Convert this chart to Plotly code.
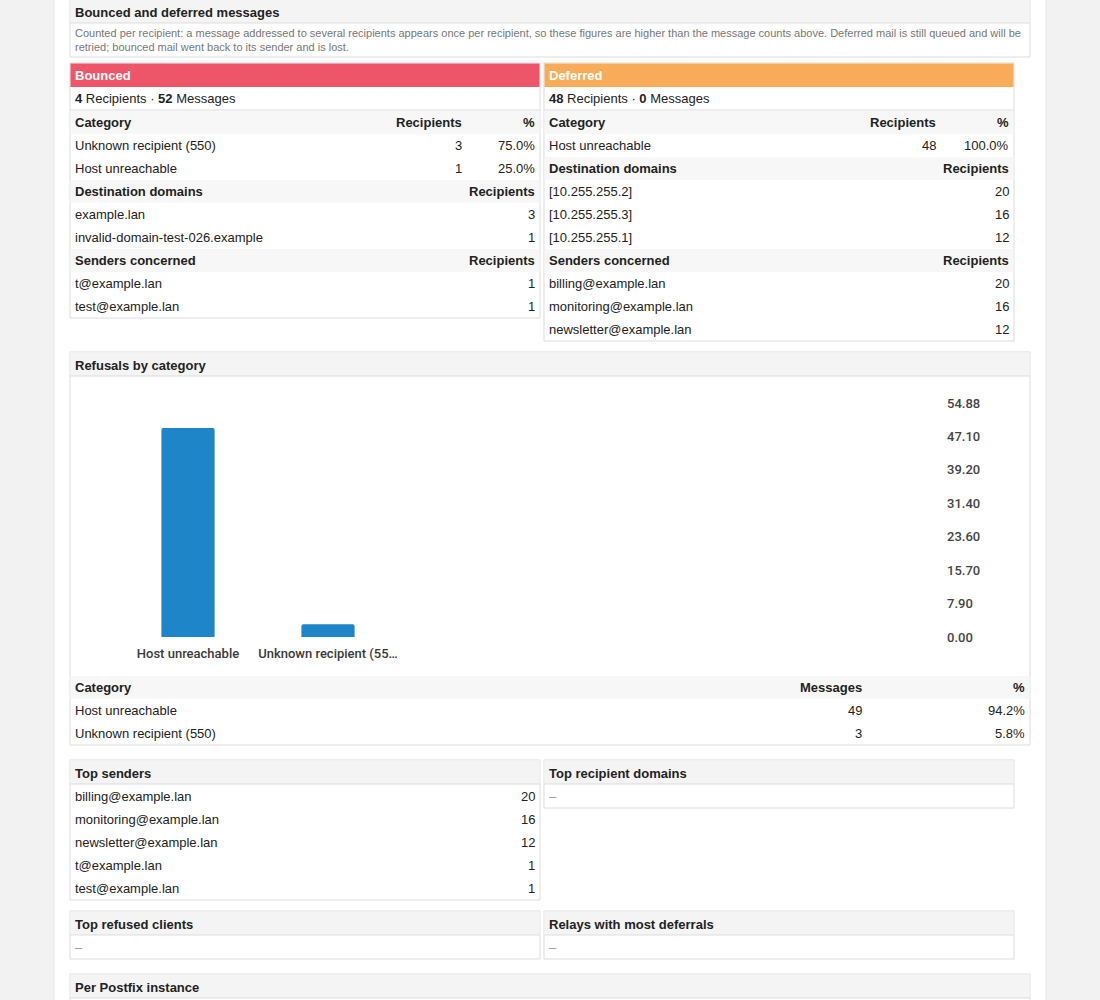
import plotly.graph_objects as go

note_text = ("Counted per recipient: a message addressed to several recipients appears once per recipient, "
             "so these figures are higher than the message counts above. Deferred mail is still queued and will be<br>"
             "retried; bounced mail went back to its sender and is lost.")

bounced_recipients = 4
bounced_messages = 52
bounced_categories = ["Unknown recipient (550)", "Host unreachable"]
bounced_category_counts = [3, 1]
bounced_category_pct = ["75.0%", "25.0%"]
bounced_domains = ["example.lan", "invalid-domain-test-026.example"]
bounced_domain_counts = [3, 1]
bounced_senders = ["t@example.lan", "test@example.lan"]
bounced_sender_counts = [1, 1]

deferred_recipients = 48
deferred_messages = 0
deferred_categories = ["Host unreachable"]
deferred_category_counts = [48]
deferred_category_pct = ["100.0%"]
deferred_domains = ["[10.255.255.2]", "[10.255.255.3]", "[10.255.255.1]"]
deferred_domain_counts = [20, 16, 12]
deferred_senders = ["billing@example.lan", "monitoring@example.lan", "newsletter@example.lan"]
deferred_sender_counts = [20, 16, 12]

refusal_categories = ["Host unreachable", "Unknown recipient (550)"]
refusal_messages = [49, 3]
refusal_pct = ["94.2%", "5.8%"]
refusal_ticks = [0.00, 7.90, 15.70, 23.60, 31.40, 39.20, 47.10, 54.88]

top_senders = ["billing@example.lan", "monitoring@example.lan", "newsletter@example.lan",
               "t@example.lan", "test@example.lan"]
top_sender_counts = [20, 16, 12, 1, 1]

# ---- page helpers (page pixel coords -> paper coords) ----
W, H = 1100, 1000
FONT = "Liberation Sans, Arial, sans-serif"
BORDER = "#dddddd"
shapes = []
annotations = []


def px(x):
    return x / W


def py(y):
    return 1 - y / H


def rect(x0, y0, x1, y1, fill="white", line=BORDER):
    shapes.append(dict(type="rect", xref="paper", yref="paper", layer="below",
                       x0=px(x0), x1=px(x1), y0=py(y1), y1=py(y0), fillcolor=fill,
                       line=dict(color=line, width=1) if line else dict(width=0)))


def hline(x0, x1, y, color=BORDER):
    shapes.append(dict(type="line", xref="paper", yref="paper", layer="below",
                       x0=px(x0), x1=px(x1), y0=py(y), y1=py(y), line=dict(color=color, width=1)))


def text(x, y, s, anchor="left", size=13, color="#222222", bold=False):
    if bold:
        s = "<b>" + s + "</b>"
    # annotation boxes carry ~2px of padding, so nudge them to line the glyphs up
    x = x - 2 if anchor == "left" else x + 2
    annotations.append(dict(x=px(x), y=py(y), xref="paper", yref="paper", text=s, showarrow=False,
                            xanchor=anchor, yanchor="middle", align=anchor,
                            font=dict(family=FONT, size=size, color=color)))


def section(x0, x1, top, bottom, title):
    rect(x0, top, x1, bottom)
    rect(x0 + 0.5, top + 0.5, x1 - 0.5, top + 24, fill="#f4f4f4", line=None)
    hline(x0, x1, top + 24)
    text(x0 + 5, top + 13, title, bold=True)


def grey_row(x0, x1, y):
    rect(x0 + 0.5, y, x1 - 0.5, y + 23, fill="#f7f7f7", line=None)


def panel(x0, x1, top, title, colour, n_rcpt, n_msg, cats, cat_counts, cat_pct,
          domains, dom_counts, senders, snd_counts):
    rows = 3 + len(cats) + len(domains) + len(senders)
    bottom = top + 48 + 23 * rows
    rect(x0, top, x1, bottom)
    rect(x0 + 0.5, top + 0.5, x1 - 0.5, top + 24, fill=colour, line=None)
    text(x0 + 5, top + 12.5, title, color="white", bold=True)
    text(x0 + 5, top + 35.5, "<b>%d</b> Recipients · <b>%d</b> Messages" % (n_rcpt, n_msg))
    hline(x0, x1, top + 47)
    y = top + 48
    grey_row(x0, x1, y)
    text(x0 + 5, y + 11.5, "Category", bold=True)
    text(x1 - 78, y + 11.5, "Recipients", anchor="right", bold=True)
    text(x1 - 5, y + 11.5, "%", anchor="right", bold=True)
    y += 23
    for c, n, p in zip(cats, cat_counts, cat_pct):
        text(x0 + 5, y + 11.5, c)
        text(x1 - 78, y + 11.5, str(n), anchor="right")
        text(x1 - 5, y + 11.5, p, anchor="right")
        y += 23
    for head, names, counts in (("Destination domains", domains, dom_counts),
                                ("Senders concerned", senders, snd_counts)):
        grey_row(x0, x1, y)
        text(x0 + 5, y + 11.5, head, bold=True)
        text(x1 - 5, y + 11.5, "Recipients", anchor="right", bold=True)
        y += 23
        for name, n in zip(names, counts):
            text(x0 + 5, y + 11.5, name)
            text(x1 - 5, y + 11.5, str(n), anchor="right")
            y += 23


# white page column
rect(54, -2, 1046, 1002, fill="white", line="#e6e6e6")

# bounced / deferred block
section(70, 1030, -1, 57, "Bounced and deferred messages")
text(75, 40, note_text, size=11, color="#777777")
panel(70, 540, 63, "Bounced", "#ef5568", bounced_recipients, bounced_messages,
      bounced_categories, bounced_category_counts, bounced_category_pct,
      bounced_domains, bounced_domain_counts, bounced_senders, bounced_sender_counts)
panel(544, 1014, 63, "Deferred", "#f8ac59", deferred_recipients, deferred_messages,
      deferred_categories, deferred_category_counts, deferred_category_pct,
      deferred_domains, deferred_domain_counts, deferred_senders, deferred_sender_counts)

# refusals by category
section(70, 1030, 352, 745, "Refusals by category")
grey_row(70, 1030, 676)
text(75, 687.5, "Category", bold=True)
text(862, 687.5, "Messages", anchor="right", bold=True)
text(1025, 687.5, "%", anchor="right", bold=True)
for i, (c, n, p) in enumerate(zip(refusal_categories, refusal_messages, refusal_pct)):
    yy = 699 + 23 * i + 11.5
    text(75, yy, c)
    text(862, yy, str(n), anchor="right")
    text(1025, yy, p, anchor="right")

# top senders / top recipient domains
section(70, 540, 760, 900, "Top senders")
for i, (s, n) in enumerate(zip(top_senders, top_sender_counts)):
    yy = 785 + 23 * i + 11.5
    text(75, yy, s)
    text(535, yy, str(n), anchor="right")
section(544, 1014, 760, 808, "Top recipient domains")
text(549, 796.5, "–", color="#999999")

section(70, 540, 911, 959, "Top refused clients")
text(75, 947.5, "–", color="#999999")
section(544, 1014, 911, 959, "Relays with most deferrals")
text(549, 947.5, "–", color="#999999")

section(70, 1030, 974, 1010, "Per Postfix instance")

# ---- bar chart ----
tick_labels = [c if len(c) <= 21 else c[:21] + "…" for c in refusal_categories]

fig = go.Figure(go.Bar(
    x=refusal_categories, y=refusal_messages, width=0.38,
    marker=dict(color="#1e85c8", cornerradius=2, line=dict(width=0)),
    hoverinfo="x+y",
))

fig.update_layout(
    width=W, height=H,
    margin=dict(l=0, r=0, t=0, b=0, autoexpand=False),
    paper_bgcolor="#f2f2f2", plot_bgcolor="rgba(0,0,0,0)",
    showlegend=False,
    shapes=shapes, annotations=annotations,
    font=dict(family=FONT, size=13, color="#222222"),
    xaxis=dict(domain=[px(118), px(398)], range=[-0.5, 1.5], type="category",
               tickvals=refusal_categories, ticktext=tick_labels,
               showgrid=False, showline=False, zeroline=False, ticks="",
               tickfont=dict(family="Roboto", size=13, color="#3a3a3a", weight=500),
               ticklabelstandoff=7, automargin=False),
    yaxis=dict(domain=[py(637), py(403)], range=[0, refusal_ticks[-1]],
               side="right", anchor="free", position=px(946),
               tickvals=refusal_ticks, ticktext=["%.2f" % t for t in refusal_ticks],
               showgrid=False, showline=False, zeroline=False, ticks="",
               tickfont=dict(family="Roboto", size=13, color="#444444", weight=500),
               automargin=False),
)

fig.write_html("out.html", config={"displayModeBar": False},
               post_script="document.body.style.margin='0';document.body.style.background='#f2f2f2';")
